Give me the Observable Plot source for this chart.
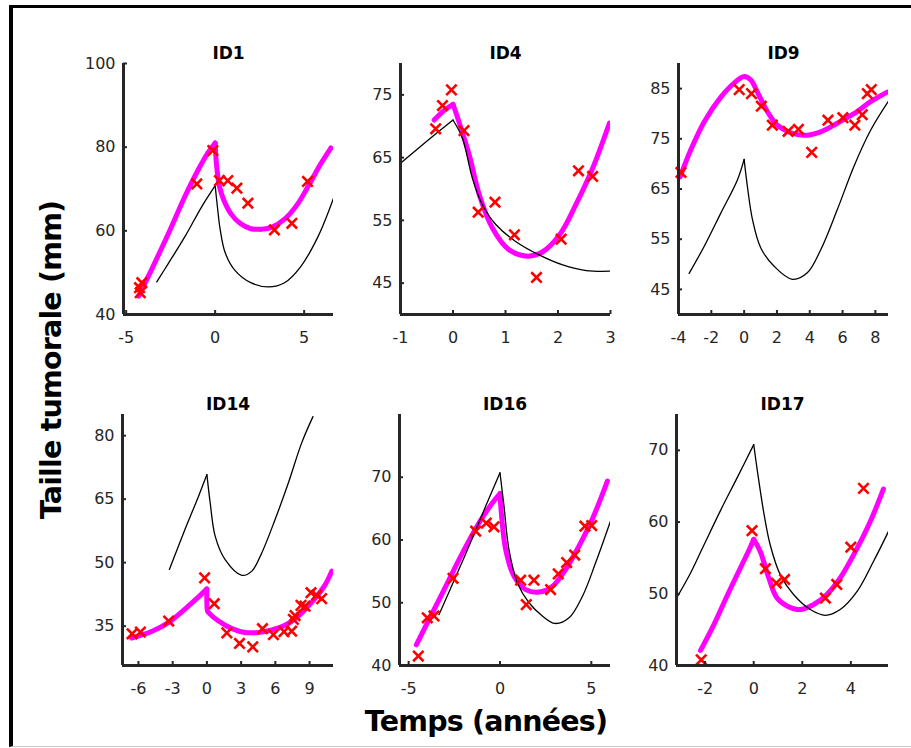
<!DOCTYPE html>
<html><head><meta charset="utf-8">
<script src="https://cdn.jsdelivr.net/npm/d3@7"></script>
<script src="https://cdn.jsdelivr.net/npm/@observablehq/plot@0.6"></script>
<style>
body{margin:0;background:#fff;}
#wrap{position:relative;width:911px;height:748px;overflow:hidden;font-family:"DejaVu Sans",sans-serif;background:#fff;}
#frame{position:absolute;left:9px;top:5px;right:-10px;bottom:1px;border-left:4px solid #000;border-top:3px solid #000;border-bottom:1px solid #c8c8c8;}
.panel{position:absolute;}
.lab{position:absolute;font-weight:bold;font-size:28.5px;line-height:1;white-space:nowrap;color:#000;letter-spacing:-0.8px;}
#ylab{left:52px;top:360px;transform:translate(-50%,-50%) rotate(-90deg);}
#xlab{left:486px;top:708px;transform:translateX(-50%);}
</style></head>
<body>
<div id="wrap">
  <div id="frame"></div>
  <div id="ylab" class="lab">Taille tumorale (mm)</div>
  <div id="xlab" class="lab">Temps (années)</div>
</div>
<script>
// ---- data (time in years, tumour size in mm) ----
const panelNames = ["ID1", "ID4", "ID9", "ID14", "ID16", "ID17"];

const id1Obs = [[-4.21,45.2],[-4.25,46.4],[-4.12,47.6],[-1.03,71.2],[-0.13,79.2],[0.24,72.0],[0.71,72.0],[1.22,70.2],[1.84,66.6],[3.33,60.2],[4.31,61.8],[5.19,71.8]];
const id1Fit = [[-4.3,44.4],[-3.6,50.5],[-2.6,59.6],[-1.7,68.2],[-0.95,74.6],[-0.4,78.7],[0,81],[0.08,75.6],[0.25,70.5],[0.5,67.2],[0.9,64],[1.4,61.8],[2,60.5],[2.6,60.4],[3.2,60.9],[3.9,62.8],[4.6,66.2],[5.3,71.2],[5.9,75.8],[6.5,79.8]];
const id1Pop = [[-3.28,47.8],[-2.6,52.4],[-1.7,58.6],[-0.75,65.8],[0,70.8],[0.12,66],[0.28,60.4],[0.56,54.8],[1.1,50.6],[2,47.6],[3,46.6],[3.9,47.6],[4.8,51.4],[5.8,58.8],[6.65,67.8]];

const id4Obs = [[-0.33,69.6],[-0.2,73.3],[-0.03,75.8],[0.21,69.3],[0.48,56.3],[0.8,57.9],[1.17,52.7],[1.59,45.9],[2.06,52.0],[2.39,62.9],[2.66,62.0]];
const id4Fit = [[-0.36,71],[-0.2,72.3],[0,73.5],[0.11,70.8],[0.31,65.4],[0.5,59.1],[0.75,53.8],[1.07,50.3],[1.42,49.3],[1.71,50],[2.03,52.7],[2.34,57.5],[2.66,63.3],[2.98,70.5]];
const id4Pop = [[-1,64.1],[-0.5,67.6],[0,71],[0.18,68.1],[0.37,61.7],[0.56,57.5],[0.82,54.3],[1.2,51.6],[1.64,49.5],[2.09,47.9],[2.54,47],[3,46.9]];

const id9Obs = [[-3.85,68.3],[-0.3,84.8],[0.45,84.0],[1.05,81.5],[1.72,77.7],[2.68,76.5],[3.31,76.9],[4.12,72.3],[5.11,78.7],[6.02,79.2],[6.75,77.7],[7.2,79.8],[7.51,84.0],[7.75,84.8]];
const id9Fit = [[-3.9,67.4],[-3.25,72.8],[-2.43,78.4],[-1.42,83.3],[-0.61,86.1],[0,87.4],[0.41,86.7],[0.81,84.3],[1.42,80.4],[2.03,77.7],[2.84,76.2],[3.65,75.7],[4.67,76.4],[5.68,78.1],[6.69,80],[7.71,82.4],[8.72,84.3]];
const id9Pop = [[-3.35,48.2],[-2.43,53.6],[-1.42,60.2],[-0.41,66.8],[0,70.9],[0.2,65.5],[0.51,58.9],[1.01,53.3],[1.83,49.6],[2.94,47],[3.85,48.3],[4.67,52.9],[5.68,60.9],[6.69,69.5],[7.71,76.7],[8.8,82.5]];

const id14Obs = [[-6.56,33.2],[-5.83,33.6],[-3.35,36.2],[-0.2,46.4],[0.64,40.3],[1.75,33.4],[2.86,30.9],[4.02,30.1],[4.87,34.4],[5.83,33.0],[6.76,33.7],[7.43,33.8],[7.58,36.6],[7.73,37.5],[8.25,39.9],[8.6,39.7],[9.13,42.9],[9.62,42.3],[10.06,41.5]];
const id14Fit = [[-6.6,32.2],[-4.8,33.8],[-3.35,35.9],[-1.9,39.1],[-0.73,41.9],[0,43.8],[0.05,38.6],[0.15,38.2],[1.02,36.2],[2.19,34.4],[3.35,33.5],[4.52,33.5],[5.69,34.1],[6.85,35.2],[8.02,37.4],[9.18,40.6],[10.35,44.7],[10.95,48]];
const id14Pop = [[-3.29,48.4],[-1.9,58],[-0.73,65.7],[0,70.8],[0.29,64.1],[0.73,56.2],[1.6,50.7],[3.06,47],[3.94,48],[4.81,52.3],[5.98,60.2],[7.14,68.8],[8.31,78.3],[9.3,84.5]];

const id16Obs = [[-4.47,41.5],[-3.98,47.6],[-3.61,47.9],[-2.57,53.9],[-1.33,61.4],[-0.75,62.7],[-0.33,62.1],[1.13,53.6],[1.44,49.7],[1.86,53.6],[2.77,52.1],[3.19,54.6],[3.65,56.4],[4.09,57.6],[4.65,62.2],[5.02,62.3]];
const id16Fit = [[-4.58,43.3],[-3.89,47.3],[-2.97,52.6],[-2.06,57.9],[-1.15,62.7],[-0.42,65.9],[0,67.4],[0.09,63.8],[0.31,58.5],[0.77,54.2],[1.41,52.1],[2.14,51.7],[2.86,52.6],[3.59,55.3],[4.32,59],[5.05,63.3],[5.88,69.4]];
const id16Pop = [[-3.34,48.1],[-2.61,52.9],[-1.7,59],[-0.78,65.4],[0,70.7],[0.22,65.4],[0.49,58.5],[0.95,53.2],[1.59,50],[2.32,47.9],[3.01,46.7],[3.78,47.6],[4.51,51],[5.24,56.4],[6.06,63.1]];

const id17Obs = [[-2.16,40.8],[-0.07,58.8],[0.48,53.5],[0.93,51.5],[1.27,52.0],[2.95,49.4],[3.42,51.3],[4.0,56.5],[4.52,64.7]];
const id17Fit = [[-2.19,42.1],[-1.64,45.7],[-1.1,49.7],[-0.55,53.6],[-0.14,56.5],[0,57.6],[0.27,55.9],[0.62,52.2],[0.96,49.4],[1.37,48.3],[1.92,47.8],[2.47,48.5],[3.01,49.9],[3.56,52.2],[4.25,56.3],[4.79,60],[5.34,64.6]];
const id17Pop = [[-3.18,49.4],[-2.6,52.9],[-2.05,56.8],[-1.37,61.6],[-0.68,66.2],[0,70.8],[0.16,66.9],[0.41,61.4],[0.68,56.8],[1.1,52.6],[1.64,49.9],[2.33,47.8],[2.95,47],[3.56,47.8],[4.25,50.3],[4.93,54.5],[5.55,58.7]];

// axis limits and tick labels
const xDomains = [[-5.15,6.65],[-1,3],[-4,8.8],[-7.4,11.1],[-5.5,6.05],[-3.18,5.55]];
const yDomains = [[40,100],[40,80],[40,90],[25.7,85],[40,80],[40,75]];
const xTicks = [[-5,0,5],[-1,0,1,2,3],[-4,-2,0,2,4,6,8],[-6,-3,0,3,6,9],[-5,0,5],[-2,0,2,4]];
const yTicks = [[40,60,80,100],[45,55,65,75],[45,55,65,75,85],[35,50,65,80],[40,50,60,70],[40,50,60,70]];

const observed = [id1Obs,id4Obs,id9Obs,id14Obs,id16Obs,id17Obs];
const fits = [id1Fit,id4Fit,id9Fit,id14Fit,id16Fit,id17Fit];
const pops = [id1Pop,id4Pop,id9Pop,id14Pop,id16Pop,id17Pop];
const cuspFit = [true,true,false,true,true,true];

// ---- layout ----
const frameLeft = [123,400,678,122,399,676];
const frameTop = [63,63,63,414,414,414];
const frameW = [210,210,210,211,211,212];
const frameH = 251;
const mL = 52, mR = 12, mT = 36, mB = 40;
const axisColor = "#262626";

function toRows(arr){ return arr.map(([t,y]) => ({t, y, s: 0})); }
function splitAtPeak(arr){
  const out = [];
  arr.forEach(([t,y]) => { if (t <= 0) out.push({t, y, s: 0}); if (t >= 0) out.push({t, y, s: 1}); });
  return out;
}

const wrap = document.getElementById("wrap");
panelNames.forEach((name, i) => {
  const W = frameW[i], H = frameH;
  const fitRows = cuspFit[i] ? splitAtPeak(fits[i]) : toRows(fits[i]);
  const popRows = splitAtPeak(pops[i]);
  const obsRows = toRows(observed[i]);
  const svg = Plot.plot({
    width: mL + W + mR, height: mT + H + mB,
    marginLeft: mL, marginRight: mR, marginTop: mT, marginBottom: mB,
    x: {domain: xDomains[i]},
    y: {domain: yDomains[i]},
    style: {fontFamily: "'DejaVu Sans', sans-serif", fontSize: "16px", color: axisColor, background: "transparent", overflow: "visible"},
    marks: [
      Plot.line(fitRows, {x: "t", y: "y", z: "s", stroke: "#ff00ff", strokeWidth: 5, curve: "catmull-rom", clip: true}),
      Plot.line(popRows, {x: "t", y: "y", z: "s", stroke: "#000", strokeWidth: 1.3, curve: "catmull-rom", clip: true}),
      Plot.dot(obsRows, {x: "t", y: "y", symbol: "times", stroke: "#ff0000", strokeWidth: 2.6, r: 4.8}),
      Plot.tickX(xTicks[i], {x: d => d, insetTop: H - 4, stroke: axisColor, strokeWidth: 2}),
      Plot.tickY(yTicks[i], {y: d => d, insetRight: W - 4, stroke: axisColor, strokeWidth: 2}),
      Plot.ruleX([xDomains[i][0]], {stroke: axisColor, strokeWidth: 3}),
      Plot.ruleY([yDomains[i][0]], {stroke: axisColor, strokeWidth: 3}),
      Plot.axisX(xTicks[i], {tickSize: 0, tickPadding: 17.5, tickFormat: d => String(d), fill: axisColor, label: null}),
      Plot.axisY(yTicks[i], {tickSize: 0, tickPadding: 8, tickFormat: d => String(d), fill: axisColor, label: null}),
      Plot.text([name], {frameAnchor: "top", dy: -16.5, fontWeight: "bold", fontSize: 17, fill: "#000"})
    ]
  });
  svg.classList.add("panel");
  svg.style.left = (frameLeft[i] - mL) + "px";
  svg.style.top = (frameTop[i] - mT) + "px";
  wrap.appendChild(svg);
});
</script>
</body></html>
